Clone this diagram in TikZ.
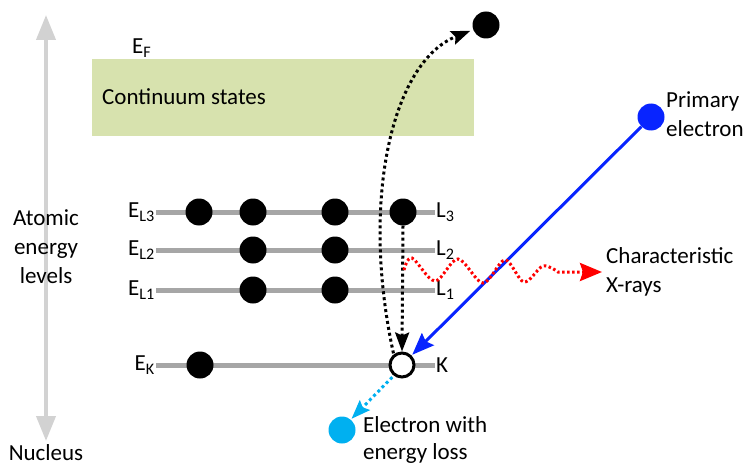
\documentclass[tikz,border=0pt]{standalone}
\usepackage{fontspec}
\setmainfont{Carlito}
\usetikzlibrary{arrows.meta}
\definecolor{levelgray}{RGB}{166,166,166}
\definecolor{axisgray}{RGB}{210,210,210}
\definecolor{contgreen}{RGB}{215,226,174}
\definecolor{pblue}{RGB}{8,36,255}
\definecolor{lblue}{RGB}{0,176,240}
\begin{document}
\begin{tikzpicture}[x=1pt,y=-1pt,
  font=\fontsize{23}{29}\selectfont,
  electron/.style={circle, fill=black, minimum size=27pt, inner sep=0pt},
  holestate/.style={circle, draw=black, fill=white, line width=3pt, minimum size=24pt, inner sep=0pt},
  levelline/.style={draw=levelgray, line width=5pt},
  lbl/.style={inner sep=1pt},
  dotted line/.style={line width=3pt, dash pattern=on 3pt off 3pt},
  blackhead/.style={-{Stealth[length=19pt,width=14pt,inset=3pt]}},
]
\useasboundingbox (0,0) rectangle (746,468);

% energy axis
\coordinate (axtop) at (46,15);
\coordinate (axbot) at (46,441);
\draw[axisgray, line width=4pt, {Triangle[length=25pt,width=19pt]}-{Triangle[length=25pt,width=19pt]}] (axtop) -- (axbot);
\node[align=center] (ael) at (46,247) {Atomic\\energy\\levels};
\node[inner sep=1pt] (nuc) at (46,453) {Nucleus};

% continuum
\node[fill=contgreen, minimum width=382pt, minimum height=77pt, inner sep=0pt, anchor=north west] (cont) at (92,59) {};
\node[anchor=west, inner sep=0pt] (contlbl) at (102,97) {Continuum states};
\node[anchor=west, lbl] (EF) at (131,48) {E\textsubscript{F}};

% level labels
\node[anchor=east, lbl] (EL3) at (156,212) {E\textsubscript{L3}};
\node[anchor=east, lbl] (EL2) at (156,250) {E\textsubscript{L2}};
\node[anchor=east, lbl] (EL1) at (156,290) {E\textsubscript{L1}};
\node[anchor=east, lbl] (EK)  at (156,365) {E\textsubscript{K}};
\node[anchor=west, lbl] (L3) at (435,212) {L\textsubscript{3}};
\node[anchor=west, lbl] (L2) at (435,250) {L\textsubscript{2}};
\node[anchor=west, lbl] (L1) at (435,290) {L\textsubscript{1}};
\node[anchor=west, lbl] (K)  at (435,365) {K};

\draw[levelline] (EL3.east) -- (L3.west);
\draw[levelline] (EL2.east) -- (L2.west);
\draw[levelline] (EL1.east) -- (L1.west);
\draw[levelline] (EK.east) -- (K.west);

% electrons
\node[electron] (a1) at (199,212) {};
\node[electron] (a2) at (253,212) {};
\node[electron] (a3) at (335,212) {};
\node[electron] (a4) at (403,212) {};
\node[electron] (b1) at (253,250) {};
\node[electron] (b2) at (335,250) {};
\node[electron] (c1) at (253,290) {};
\node[electron] (c2) at (335,290) {};
\node[electron] (k1) at (200,365) {};
\node[holestate] (hole) at (402,365) {};
\node[electron] (top) at (486,25) {};
\node[electron, fill=pblue] (pe) at (651,117) {};
\node[electron, fill=lblue] (el) at (342,430) {};

% texts
\node[anchor=west, align=left, lbl] (pelbl) at (665,114) {Primary\\electron};
\node[anchor=west, align=left, inner sep=4pt] (xr) at (602,272) {Characteristic\\X-rays};
\node[anchor=west, align=left, lbl, font=\fontsize{23}{27}\selectfont] (ellbl) at (362,440) {Electron with\\energy loss};

% ejected electron path
\draw[dotted line, blackhead, shorten <=1pt, shorten >=3pt] (hole.128) .. controls (360,200) and (392,62) .. (top.200);
% L3 -> K transition
\draw[dotted line, blackhead] (a4.south) -- (hole.north);
% primary electron
\draw[pblue, line width=3pt, -{Stealth[length=22pt,width=17pt,inset=3pt]}, shorten >=1pt] (pe) -- (hole.45);
% scattered electron
\draw[lblue, dotted line, -{Stealth[length=19pt,width=14pt,inset=3pt]}, shorten <=2pt, shorten >=1pt] (hole.232) -- (el.50);
% characteristic x-rays
\draw[red, line width=3pt, dash pattern=on 2.5pt off 2.5pt, -{Stealth[length=22pt,width=18pt,inset=3pt]}]
  plot[smooth, tension=0.55] coordinates {(404,270) (412,258) (435,281) (458,259) (483,283) (505,260) (524,282) (543,266) (558,272)} -- (xr.west);
\end{tikzpicture}
\end{document}
